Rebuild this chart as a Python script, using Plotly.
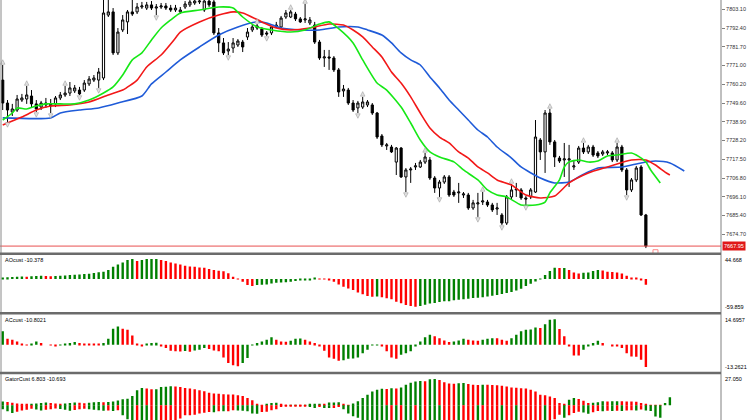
import plotly.graph_objects as go

# ---- price bars (135 bars, oldest first) ----
OPEN = [
    7762.7, 7749.6, 7744.5, 7745.6, 7751.3, 7751.9, 7753.6, 7749.1, 7747.3, 7748.5,
    7749.1, 7749.1, 7752.5, 7754.2, 7755.3, 7756.5, 7757.0, 7757.0, 7760.5, 7762.7,
    7762.7, 7763.9, 7799.8, 7801.6, 7778.2, 7791.3, 7795.9, 7801.6, 7801.6, 7804.4,
    7803.8, 7805.6, 7803.8, 7804.4, 7805.0, 7803.8, 7802.7, 7801.6, 7804.4, 7805.6,
    7806.7, 7807.3, 7802.7, 7807.8, 7807.3, 7789.6, 7783.9, 7779.3, 7781.0, 7782.7,
    7784.4, 7787.3, 7791.3, 7793.6, 7791.9, 7789.6, 7789.6, 7793.0, 7793.0, 7798.7,
    7798.7, 7800.4, 7797.6, 7797.0, 7795.3, 7794.1, 7784.4, 7775.3, 7775.9, 7775.3,
    7768.5, 7756.5, 7757.0, 7749.6, 7746.8, 7747.3, 7748.5, 7748.5, 7743.9, 7730.8,
    7725.1, 7724.5, 7715.9, 7723.9, 7707.4, 7711.4, 7713.1, 7713.1, 7715.9, 7717.1,
    7706.8, 7701.1, 7704.5, 7707.4, 7698.8, 7698.3, 7697.1, 7697.1, 7689.7, 7692.0,
    7693.1, 7693.1, 7691.4, 7689.1, 7685.7, 7681.1, 7696.0, 7700.0, 7700.0, 7695.4,
    7696.0, 7698.8, 7728.5, 7721.7, 7743.9, 7727.4, 7718.2, 7717.1, 7717.1, 7713.1,
    7715.9, 7723.9, 7721.7, 7724.5, 7721.1, 7720.5, 7721.1, 7721.1, 7717.1, 7724.5,
    7711.4, 7700.0, 7705.7, 7713.1, 7685.7,
]
HIGH = [
    7771.3, 7751.3, 7749.1, 7754.2, 7754.8, 7759.3, 7757.0, 7751.3, 7750.8, 7752.5,
    7751.9, 7753.6, 7755.9, 7759.3, 7761.6, 7759.9, 7758.8, 7762.7, 7765.0, 7765.6,
    7769.6, 7809.5, 7809.5, 7803.8, 7792.4, 7799.8, 7802.7, 7809.5, 7806.7, 7807.3,
    7807.3, 7807.8, 7806.1, 7806.7, 7806.7, 7805.6, 7805.6, 7804.4, 7807.8, 7809.0,
    7809.0, 7809.0, 7809.5, 7809.0, 7809.5, 7792.4, 7786.7, 7784.4, 7786.7, 7786.1,
    7785.6, 7792.4, 7794.7, 7794.7, 7793.0, 7790.7, 7793.6, 7795.9, 7799.3, 7802.7,
    7802.7, 7801.6, 7798.7, 7806.1, 7798.7, 7795.9, 7785.6, 7779.9, 7779.9, 7776.4,
    7769.6, 7759.9, 7758.2, 7751.3, 7750.8, 7753.1, 7751.3, 7749.6, 7744.5, 7731.9,
    7726.8, 7725.7, 7724.5, 7724.5, 7712.5, 7713.1, 7715.4, 7717.1, 7721.1, 7718.8,
    7707.9, 7705.7, 7708.5, 7708.5, 7700.0, 7704.0, 7698.8, 7698.3, 7694.3, 7698.3,
    7698.8, 7694.3, 7692.6, 7692.6, 7686.8, 7697.1, 7703.4, 7704.0, 7701.1, 7696.5,
    7701.1, 7739.9, 7729.6, 7745.6, 7746.2, 7728.5, 7719.4, 7726.8, 7725.7, 7717.1,
    7725.1, 7726.8, 7725.7, 7725.7, 7722.2, 7722.8, 7722.8, 7722.2, 7726.8, 7725.7,
    7712.5, 7706.8, 7713.7, 7714.2, 7686.3,
]
LOW = [
    7745.6, 7738.8, 7742.2, 7744.5, 7750.2, 7749.1, 7747.3, 7744.5, 7745.6, 7746.8,
    7743.9, 7747.3, 7751.3, 7753.1, 7753.6, 7755.3, 7754.2, 7755.9, 7759.3, 7761.6,
    7758.2, 7762.7, 7798.7, 7777.0, 7777.0, 7790.1, 7789.0, 7799.3, 7800.4, 7803.3,
    7802.7, 7802.7, 7799.8, 7803.3, 7802.7, 7801.6, 7801.6, 7800.4, 7803.3, 7804.4,
    7805.6, 7806.1, 7801.6, 7804.4, 7788.4, 7778.7, 7777.0, 7777.0, 7778.2, 7781.6,
    7778.7, 7785.6, 7790.1, 7791.3, 7787.3, 7787.9, 7788.4, 7792.4, 7792.4, 7797.6,
    7798.1, 7796.4, 7795.3, 7795.3, 7794.1, 7783.3, 7774.2, 7770.2, 7768.5, 7767.3,
    7753.1, 7753.1, 7748.5, 7744.5, 7743.9, 7746.2, 7747.3, 7742.8, 7729.1, 7724.5,
    7722.8, 7721.1, 7708.5, 7706.8, 7698.8, 7704.0, 7711.4, 7712.5, 7714.8, 7705.7,
    7698.3, 7696.0, 7703.4, 7696.0, 7696.0, 7692.6, 7695.4, 7688.6, 7688.6, 7684.6,
    7691.4, 7690.3, 7687.4, 7685.7, 7680.0, 7680.0, 7694.8, 7696.0, 7694.3, 7691.4,
    7694.8, 7698.3, 7717.1, 7709.7, 7725.7, 7713.1, 7715.4, 7707.4, 7701.7, 7711.4,
    7714.8, 7720.5, 7720.5, 7718.8, 7718.2, 7719.4, 7719.9, 7715.9, 7715.9, 7710.2,
    7697.1, 7698.8, 7704.5, 7685.1, 7666.8,
]
CLOSE = [
    7749.6, 7745.6, 7746.2, 7751.9, 7752.5, 7754.2, 7749.1, 7746.2, 7749.6, 7749.6,
    7747.9, 7752.5, 7754.2, 7755.3, 7758.2, 7758.2, 7754.8, 7761.0, 7763.3, 7763.9,
    7767.3, 7801.0, 7801.6, 7778.2, 7790.1, 7797.0, 7801.6, 7800.4, 7804.4, 7805.0,
    7805.6, 7803.8, 7804.4, 7805.0, 7803.8, 7802.7, 7803.8, 7802.7, 7806.1, 7807.3,
    7807.8, 7807.8, 7807.8, 7805.6, 7789.6, 7783.9, 7778.2, 7780.4, 7783.9, 7785.0,
    7781.6, 7790.1, 7793.0, 7792.4, 7788.4, 7789.0, 7793.0, 7794.1, 7798.1, 7801.0,
    7801.6, 7797.6, 7795.9, 7797.6, 7797.0, 7784.4, 7775.3, 7775.9, 7775.3, 7768.5,
    7755.9, 7757.6, 7749.6, 7745.6, 7749.6, 7750.2, 7750.2, 7743.9, 7730.2, 7725.7,
    7725.7, 7721.7, 7723.9, 7707.4, 7711.4, 7711.9, 7713.7, 7715.9, 7718.8, 7706.8,
    7701.1, 7704.5, 7707.4, 7697.1, 7697.1, 7698.8, 7697.7, 7689.7, 7692.6, 7692.6,
    7693.7, 7691.4, 7688.6, 7689.7, 7681.1, 7696.0, 7700.0, 7700.5, 7695.4, 7694.8,
    7700.0, 7730.2, 7721.7, 7743.9, 7727.4, 7718.8, 7716.5, 7717.7, 7717.7, 7713.7,
    7723.9, 7721.7, 7724.5, 7719.9, 7719.4, 7721.7, 7721.7, 7717.1, 7724.5, 7711.4,
    7700.0, 7705.7, 7712.5, 7685.7, 7667.95,
]
FRACTAL_UP = [0, 5, 13, 53, 60, 63, 75, 88, 100, 106, 114, 121, 128]
FRACTAL_DN = [1, 7, 10, 16, 20, 32, 47, 55, 74, 84, 91, 99, 104, 109, 130]

# ---- alligator (jaw shifted 8, teeth 5, lips 3 bars forward) ----
JAW_X = [0, 10, 12, 16, 20, 24, 29, 31, 34, 37, 41, 45, 49, 53, 55, 58, 62, 66, 70, 74,
         76, 79, 81, 83, 85, 87, 89, 91, 93, 95, 97, 99, 101, 103, 106, 108, 112, 115, 118, 120,
         122, 124, 129, 133, 136, 139, 142]
JAW_Y = [7741.1, 7741.1, 7743.9, 7745.6, 7746.8, 7749.6, 7753.6, 7760.5, 7767.3, 7774.2,
         7781.6, 7788.4, 7793.0, 7795.9, 7795.3, 7792.4, 7791.3, 7791.3, 7793.0, 7793.0,
         7791.3, 7788.4, 7783.9, 7778.2, 7774.2, 7771.3, 7764.5, 7758.2, 7751.3, 7745.6,
         7739.9, 7734.2, 7730.2, 7724.5, 7718.2, 7713.1, 7706.8, 7704.0, 7704.5, 7707.4,
         7710.2, 7712.5, 7713.1, 7715.4, 7716.5, 7715.4, 7710.8]
TEETH_X = [0, 4, 7, 10, 14, 18, 22, 25, 28, 30, 33, 36, 37, 41, 45, 48, 50, 54, 57, 60,
           64, 68, 71, 73, 75, 77, 79, 81, 83, 85, 87, 89, 91, 93, 95, 97, 99, 101, 103, 106,
           109, 112, 115, 118, 122, 126, 131, 134, 136, 138, 139]
TEETH_Y = [7737.1, 7741.6, 7745.6, 7747.9, 7748.5, 7750.2, 7754.2, 7757.0, 7762.7, 7770.2,
           7777.0, 7786.7, 7790.1, 7795.9, 7799.8, 7801.6, 7801.0, 7795.9, 7792.4, 7791.3,
           7792.4, 7794.7, 7794.1, 7791.3, 7787.3, 7781.6, 7775.9, 7767.3, 7761.0, 7753.1,
           7743.9, 7735.4, 7730.2, 7726.8, 7721.7, 7718.2, 7713.1, 7709.7, 7705.7, 7702.8,
           7697.1, 7695.4, 7696.5, 7704.0, 7709.7, 7713.1, 7717.1, 7717.1, 7714.2, 7710.2,
           7708.5]
LIPS_X = [0, 2, 3, 5, 7, 9, 12, 15, 18, 21, 23, 25, 27, 29, 31, 33, 35, 37, 41, 45,
          48, 50, 53, 56, 60, 63, 66, 68, 70, 73, 75, 78, 80, 83, 85, 87, 89, 91, 94, 96,
          99, 101, 103, 105, 108, 111, 113, 114, 116, 117, 118, 120, 122, 124, 126, 128, 131, 132, 134, 135,
          137]
LIPS_Y = [7739.9, 7743.9, 7746.8, 7746.2, 7747.9, 7749.1, 7749.1, 7749.1, 7751.3, 7755.3,
          7758.8, 7765.6, 7774.2, 7778.2, 7785.6, 7792.4, 7797.0, 7801.0, 7802.7, 7804.4,
          7803.8, 7798.7, 7793.0, 7791.3, 7790.1, 7791.3, 7794.7, 7795.9, 7792.0, 7783.9,
          7774.2, 7761.0, 7757.0, 7747.3, 7738.2, 7728.5, 7721.7, 7718.8, 7716.0, 7711.4,
          7705.7, 7700.0, 7697.1, 7696.0, 7691.4, 7691.4, 7693.1, 7698.3, 7705.7, 7713.1,
          7716.0, 7717.1, 7715.9, 7716.5, 7719.4, 7719.9, 7721.1, 7719.9, 7715.9, 7711.4,
          7704.0]

# ---- oscillators ----
AO = [
    3.0, 3.4, 3.8, 4.1, 4.5, 4.2, 5.0, 5.8, 6.0, 5.6,
    5.3, 5.5, 6.0, 6.6, 7.2, 7.8, 8.4, 9.0, 9.8, 11.0,
    12.6, 13.3, 16.3, 22.4, 26.6, 30.2, 34.5, 36.3, 32.7, 34.5,
    36.3, 36.5, 36.6, 34.5, 32.7, 30.2, 28.4, 26.6, 24.2, 23.0,
    22.4, 21.1, 20.5, 18.1, 16.3, 15.2, 14.0, 10.5, 4.2, 0.5,
    -4.9, -10.9, -12.7, -10.9, -10.5, -9.7, -7.9, -6.7, -6.2, -5.8,
    -4.9, -3.7, -2.5, -2.0, -0.8, 1.5, 1.0, -0.5, -2.5, -4.9,
    -9.7, -14.0, -17.0, -20.0, -24.2, -27.8, -30.8, -32.0, -31.5, -33.2,
    -35.0, -36.8, -41.0, -44.0, -47.1, -49.0, -50.2, -49.0, -46.5, -44.6,
    -43.4, -41.6, -40.4, -40.2, -38.6, -37.5, -36.8, -35.6, -34.5, -34.0,
    -33.2, -31.5, -30.2, -29.0, -27.2, -25.5, -23.6, -20.6, -17.6, -12.7,
    -8.5, -4.3, 0.8, 7.3, 14.5, 20.6, 20.0, 20.3, 16.3, 12.1,
    10.3, 11.5, 12.1, 14.5, 16.3, 15.5, 13.3, 13.0, 12.1, 10.3,
    6.1, 3.0, 1.2, -1.8, -10.378,
]
AC = [
    6.5, 2.9, 2.4, 1.6, 0.6, -0.3, 0.3, 1.6, 0.8, 0.0,
    -0.3, -0.5, -0.2, 0.5, 0.8, 1.3, 0.8, 0.6, 0.5, 0.3,
    0.2, 0.8, 2.9, 7.8, 8.9, 7.8, 7.3, 4.5, 0.3, -0.5,
    0.5, 0.8, 0.9, -0.5, -1.6, -2.9, -3.2, -3.3, -3.1, -3.4,
    -2.8, -2.4, -1.6, -2.1, -2.8, -3.2, -6.2, -8.9, -10.0, -10.5,
    -8.9, -6.5, -0.3, 0.8, 1.6, 2.4, 3.6, 2.4, 1.6, 1.5,
    1.9, 2.9, 3.0, 2.4, 1.6, 0.8, -0.8, -2.9, -6.2, -6.8,
    -7.8, -7.6, -6.8, -6.7, -6.2, -4.1, -2.4, -0.3, -0.2, -0.8,
    -3.2, -6.2, -6.8, -4.9, -4.1, -3.2, -0.8, 1.6, 3.6, 4.9,
    4.1, 3.2, 2.1, 1.3, 1.6, 2.1, 2.9, 2.4, 2.1, 1.9,
    2.4, 2.9, 3.2, 3.1, 2.4, 1.9, 3.2, 4.9, 6.5, 7.3,
    7.4, 8.4, 8.1, 10.0, 12.1, 12.4, 7.6, 4.1, -0.8, -5.2,
    -5.3, -2.4, -0.8, 0.8, 1.9, 0.8, 0.0, -0.5, -0.8, -1.6,
    -4.1, -5.7, -5.8, -7.3, -10.8021,
]
GATOR_UP = [
    3.2, 2.8, 2.2, 1.6, 1.2, 0.8, 1.1, 1.5, 1.9, 2.3,
    2.0, 1.6, 1.3, 1.6, 2.0, 2.3, 2.1, 1.8, 2.2, 2.5,
    2.8, 2.7, 2.9, 3.3, 4.2, 5.1, 5.7, 8.0, 12.8, 14.8,
    14.3, 13.7, 13.8, 15.7, 15.8, 16.2, 16.1, 15.7, 14.8, 14.3,
    13.7, 12.8, 12.0, 10.8, 10.0, 9.9, 9.4, 9.3, 9.2, 8.5,
    8.0, 6.3, 4.3, 1.4, 0.2, 1.4, 2.0, 2.1, 0.9, 0.2,
    0.3, 0.4, 0.2, 0.4, 0.6, 0.8, 1.4, 1.3, 2.3, 2.4,
    2.5, 0.9, 0.2, 1.5, 3.5, 6.2, 9.0, 11.8, 13.2, 14.1,
    13.9, 14.6, 14.4, 15.2, 17.5, 19.4, 20.3, 20.8, 20.6, 22.3,
    22.5, 21.7, 19.7, 18.6, 18.5, 18.9, 19.0, 18.3, 17.5, 17.4,
    17.6, 17.5, 17.4, 17.2, 16.8, 16.1, 15.2, 15.0, 14.6, 14.4,
    13.2, 11.8, 9.0, 8.5, 7.6, 6.2, 2.0, 1.1, 4.8, 6.2,
    5.4, 3.9, 2.0, 2.2, 2.5, 3.4, 3.3, 3.4, 3.5, 3.4,
    3.3, 3.2, 3.0, 2.0, 0.6, 0.3, 0.1, 0.05, 2.0, 6.803,
]
GATOR_DN = [
    -3.5, -5.0, -6.5, -5.5, -4.5, -3.8, -3.0, -3.6, -4.4, -3.8,
    -3.4, -2.8, -3.2, -3.9, -4.6, -4.0, -3.5, -3.0, -3.4, -3.9,
    -4.3, -4.6, -4.4, -4.8, -4.2, -8.6, -12.0, -13.0, -12.8, -13.6,
    -14.2, -14.0, -14.4, -14.1, -13.8, -13.5, -13.0, -11.4, -8.6, -8.5,
    -8.0, -7.1, -6.3, -5.7, -5.9, -5.1, -5.2, -5.0, -4.3, -4.4,
    -4.6, -5.1, -7.1, -7.3, -5.7, -5.6, -4.3, -3.4, -1.4, -1.3,
    -1.1, -0.9, -0.6, -0.5, -1.4, -2.3, -1.4, -2.3, -2.4, -2.3,
    -1.4, -3.4, -7.1, -9.3, -10.7, -12.5, -13.5, -14.5, -15.2, -15.8,
    -16.2, -16.0, -16.5, -16.3, -16.8, -17.0, -16.8, -17.2, -17.0, -17.3,
    -17.5, -17.6, -17.4, -17.2, -17.0, -17.3, -17.1, -16.8, -16.5, -16.7,
    -16.4, -16.0, -15.5, -15.2, -15.4, -15.0, -14.5, -14.7, -14.2, -14.0,
    -13.5, -13.0, -12.8, -13.0, -12.5, -12.0, -8.0, -10.7, -8.5, -6.5,
    -5.5, -6.2, -7.3, -5.9, -4.8, -5.1, -4.7, -4.9, -4.6, -4.8,
    -4.5, -4.2, -4.4, -3.7, -4.5, -4.8, -9.5, -10.693,
]

# ---- scales / labels ----
PRICE_TICKS = [7803.10, 7792.40, 7781.70, 7771.00, 7760.20, 7749.60, 7738.90,
               7728.20, 7717.50, 7706.80, 7696.10, 7685.40, 7674.70]
PRICE_RANGE = (7664.0, 7808.4)
LAST_PRICE = 7667.95
AO_RANGE = (-59.859, 44.668)
AC_RANGE = (-13.2621, 14.6957)
GATOR_RANGE = (-12.6, 27.050)

GREEN, RED = "#008000", "#ff0000"
FONT = "Liberation Sans, Arial, sans-serif"
H = 420


def trend_colors(vals, use_abs=False):
    cols = []
    for k, v in enumerate(vals):
        if k == 0:
            cols.append(GREEN)
            continue
        cur, prev = (abs(v), abs(vals[k - 1])) if use_abs else (v, vals[k - 1])
        cols.append(GREEN if cur > prev else RED)
    return cols


def pane(top_px, bottom_px):
    return [1 - bottom_px / H, 1 - top_px / H]


D_MAIN = pane(0, 253)
D_AO = pane(254.5, 312)
D_AC = pane(314.5, 372)
D_GT = pane(373.7, 420)

idx = list(range(len(CLOSE)))
fig = go.Figure()

fig.add_trace(go.Candlestick(
    x=idx, open=OPEN, high=HIGH, low=LOW, close=CLOSE,
    increasing=dict(line=dict(color="black", width=1), fillcolor="white"),
    decreasing=dict(line=dict(color="black", width=1), fillcolor="black"),
    hoverinfo="skip",
))

for xs, ys, col in [(JAW_X, JAW_Y, "#1f5bd8"), (TEETH_X, TEETH_Y, "#f21818"), (LIPS_X, LIPS_Y, "#16e816")]:
    fig.add_trace(go.Scatter(x=xs, y=ys, mode="lines",
                             line=dict(color=col, width=1.6, shape="spline", smoothing=0.6),
                             hoverinfo="skip"))

pad = 3.0  # marker offset from the bar extreme
fig.add_trace(go.Scatter(
    x=FRACTAL_UP, y=[HIGH[i] + pad for i in FRACTAL_UP], mode="markers",
    marker=dict(symbol="arrow-up", size=4.5, color="#e2e2e2", line=dict(color="#a0a0a0", width=0.6)),
    hoverinfo="skip"))
fig.add_trace(go.Scatter(
    x=FRACTAL_DN, y=[LOW[i] - pad for i in FRACTAL_DN], mode="markers",
    marker=dict(symbol="arrow-down", size=4.5, color="#e2e2e2", line=dict(color="#a0a0a0", width=0.6)),
    hoverinfo="skip"))
fig.add_trace(go.Scatter(
    x=[len(CLOSE) + 1], y=[LAST_PRICE - 3.5], mode="markers",
    marker=dict(symbol="square-open", size=5, color="#ff8a8a", line=dict(width=1)),
    hoverinfo="skip"))

fig.add_trace(go.Bar(x=idx, y=AO, yaxis="y2", width=0.5,
                     marker=dict(color=trend_colors(AO), line=dict(width=0)), hoverinfo="skip"))
fig.add_trace(go.Bar(x=idx, y=AC, yaxis="y3", width=0.5,
                     marker=dict(color=trend_colors(AC), line=dict(width=0)), hoverinfo="skip"))
fig.add_trace(go.Bar(x=list(range(len(GATOR_UP))), y=GATOR_UP, yaxis="y4", width=0.5,
                     marker=dict(color=trend_colors(GATOR_UP), line=dict(width=0)), hoverinfo="skip"))
fig.add_trace(go.Bar(x=list(range(len(GATOR_DN))), y=GATOR_DN, yaxis="y4", width=0.5,
                     marker=dict(color=trend_colors(GATOR_DN, use_abs=True), line=dict(width=0)),
                     hoverinfo="skip"))

sub_axis = dict(side="right", showgrid=False, zeroline=False, showticklabels=False,
                ticks="", showline=False, fixedrange=True)
fig.update_layout(
    width=752, height=420, margin=dict(l=0, r=31, t=0, b=0),
    paper_bgcolor="white", plot_bgcolor="white", showlegend=False,
    barmode="overlay", boxgap=0.35, font=dict(family=FONT, size=6, color="#222"),
    xaxis=dict(range=[-0.5625, 149.65], visible=False, rangeslider=dict(visible=False), fixedrange=True),
    yaxis=dict(domain=D_MAIN, range=list(PRICE_RANGE), side="right", showgrid=False, zeroline=False,
               tickvals=PRICE_TICKS, ticktext=[f"{v:.2f}" for v in PRICE_TICKS],
               ticks="outside", ticklen=3, tickcolor="#808080", tickfont=dict(size=5.5, color="#333"),
               fixedrange=True),
    yaxis2=dict(domain=D_AO, range=list(AO_RANGE), anchor="x", **sub_axis),
    yaxis3=dict(domain=D_AC, range=list(AC_RANGE), anchor="x", **sub_axis),
    yaxis4=dict(domain=D_GT, range=list(GATOR_RANGE), anchor="x", **sub_axis),
)

shapes = [
    dict(type="line", xref="paper", yref="y", x0=0, x1=1, y0=LAST_PRICE, y1=LAST_PRICE,
         line=dict(color="#e85050", width=1)),
    dict(type="line", xref="paper", yref="paper", x0=1, x1=1, y0=0, y1=1,
         line=dict(color="#808080", width=1)),
    dict(type="line", xref="paper", yref="paper", x0=0.0014, x1=0.0014, y0=0, y1=1,
         line=dict(color="#8a8a8a", width=1)),
]
for ypx in (253.7, 313.2, 372.9):
    shapes.append(dict(type="line", xref="paper", yref="paper", x0=0, x1=1,
                       y0=1 - ypx / H, y1=1 - ypx / H, line=dict(color="#6b6b6b", width=2.5)))
fig.update_layout(shapes=shapes)

lab = dict(xref="paper", yref="paper", showarrow=False, font=dict(size=5.5, color="black", family=FONT))
notes = [
    dict(x=0.004, y=D_AO[1], xanchor="left", yanchor="top", text=f"AOcust {AO[-1]:.3f}", **lab),
    dict(x=0.004, y=D_AC[1], xanchor="left", yanchor="top", text=f"ACcust {AC[-1]:.4f}", **lab),
    dict(x=0.004, y=D_GT[1], xanchor="left", yanchor="top",
         text=f"GatorCust {GATOR_UP[-1]:.3f} {GATOR_DN[-1]:.3f}", **lab),
    dict(x=1, xshift=2, y=D_AO[1], xanchor="left", yanchor="top", text=f"{AO_RANGE[1]:.3f}", **lab),
    dict(x=1, xshift=2, y=D_AO[0], xanchor="left", yanchor="bottom", text=f"{AO_RANGE[0]:.3f}", **lab),
    dict(x=1, xshift=2, y=D_AC[1], xanchor="left", yanchor="top", text=f"{AC_RANGE[1]:.4f}", **lab),
    dict(x=1, xshift=2, y=D_AC[0], xanchor="left", yanchor="bottom", text=f"{AC_RANGE[0]:.4f}", **lab),
    dict(x=1, xshift=2, y=D_GT[1], xanchor="left", yanchor="top", text=f"{GATOR_RANGE[1]:.3f}", **lab),
    dict(x=1, xshift=1, xref="paper", y=LAST_PRICE, yref="y", xanchor="left", yanchor="middle",
         text=f"{LAST_PRICE:.2f}", showarrow=False, bgcolor="#e01818", borderpad=1,
         font=dict(size=5.5, color="white", family=FONT)),
]
fig.update_layout(annotations=notes)

# the page body has a default 8px margin; drop it so the figure sits flush in the window
fig.write_html("out.html", config={"displayModeBar": False},
               post_script="document.body.style.margin='0';document.body.style.overflow='hidden';")
